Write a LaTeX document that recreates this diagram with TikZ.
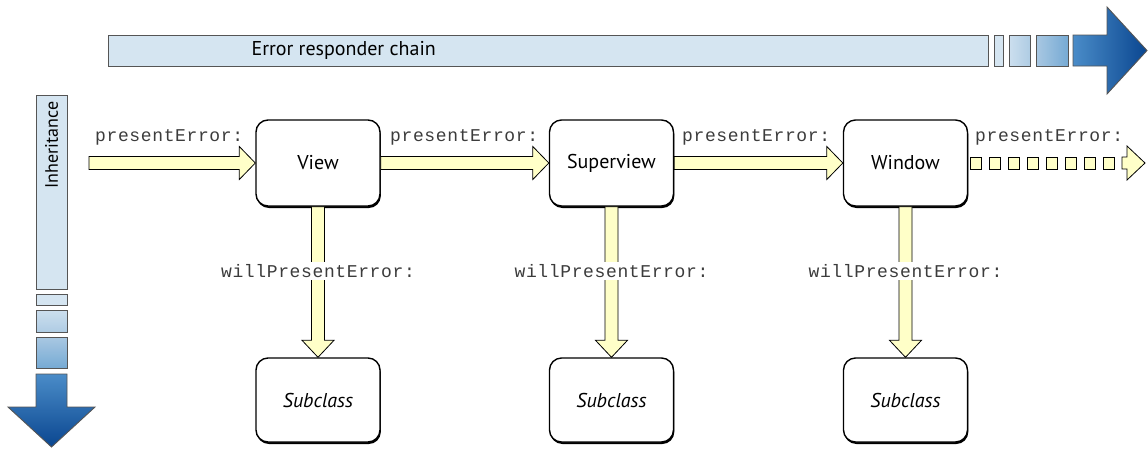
\documentclass[tikz,border=0pt]{standalone}
\usepackage{fontspec}
\setmainfont{PT Sans}
\newfontfamily\codefont[LetterSpace=3.5]{Liberation Mono}
\usetikzlibrary{calc,shadows}

\definecolor{barfill}{HTML}{D5E5F1}
\definecolor{barline}{HTML}{555555}
\definecolor{blueA}{HTML}{CCDFEE}
\definecolor{blueB}{HTML}{AFCCE4}
\definecolor{blueC}{HTML}{A9C8E2}
\definecolor{blueD}{HTML}{76AAD4}
\definecolor{blueE}{HTML}{4A8CC8}
\definecolor{blueF}{HTML}{0A4690}
\definecolor{yfill}{HTML}{FFFFC8}
\definecolor{codegray}{HTML}{3C3C3C}

% block arrows between two points at the same height / same x
\newcommand{\harrow}[2]{%
	\draw[yarrow] ($(#1)+(0,-6.5)$) -- ($(#2)+(-16,-6.5)$) -- ($(#2)+(-16,-16.5)$) -- (#2)
		-- ($(#2)+(-16,16.5)$) -- ($(#2)+(-16,6.5)$) -- ($(#1)+(0,6.5)$) -- cycle;}
\newcommand{\varrow}[2]{%
	\draw[yarrow] ($(#1)+(-6.5,0)$) -- ($(#2)+(-6.5,-17)$) -- ($(#2)+(-16,-17)$) -- (#2)
		-- ($(#2)+(16,-17)$) -- ($(#2)+(6.5,-17)$) -- ($(#1)+(6.5,0)$) -- cycle;}

\begin{document}
\begin{tikzpicture}[x=1pt,y=-1pt,
		box/.style={draw,line width=1.4pt,rounded corners=12pt,fill=white,
			minimum width=124pt,minimum height=86pt,font=\fontsize{20}{22}\selectfont,
			drop shadow={shadow xshift=0.8pt,shadow yshift=-2pt,opacity=1,fill=black}},
		subbox/.style={box,minimum height=84pt,font=\fontsize{20}{22}\selectfont\itshape},
		bar/.style={draw=barline,line width=0.9pt,fill=barfill},
		yarrow/.style={draw,line width=0.8pt,fill=yfill},
		code/.style={text=codegray,font=\codefont\fontsize{18}{20}\selectfont,inner sep=2pt}]
		\useasboundingbox (0,0) rectangle (1148,448);
		
		% responder chain bar
		\draw[bar] (108,35) rectangle (988,66);
		\node[anchor=west,font=\fontsize{20}{22}\selectfont] (chain) at (248,50.5) {Error responder chain};
		\draw[bar] (994,35) rectangle (1003,66);
		\shade[left color=blueA,right color=blueB,draw=barline,line width=0.9pt] (1009,35) rectangle (1030,66);
		\shade[left color=blueC,right color=blueD,draw=barline,line width=0.9pt] (1036,35) rectangle (1068,66);
		\shade[left color=blueE,right color=blueF,draw=barline,line width=0.9pt]
			(1073,35) -- (1107,35) -- (1107,7) -- (1147,50.5) -- (1107,94) -- (1107,66) -- (1073,66) -- cycle;
		
		% inheritance bar
		\draw[bar] (36,95) rectangle (67,289);
		\node[rotate=90,font=\fontsize{18}{20}\selectfont] (inh) at (51.5,145) {Inheritance};
		\draw[bar] (36,294) rectangle (67,305);
		\shade[top color=blueA,bottom color=blueB,draw=barline,line width=0.9pt] (36,310) rectangle (67,332);
		\shade[top color=blueC,bottom color=blueD,draw=barline,line width=0.9pt] (36,337) rectangle (67,368);
		\shade[top color=blueE,bottom color=blueF,draw=barline,line width=0.9pt]
			(36,374) -- (36,407) -- (8,407) -- (51.5,447) -- (95,407) -- (67,407) -- (67,374) -- cycle;
		
		% objects
		\node[box] (view) at (318,163) {View};
		\node[box] (superview) at (611.5,163) {Superview};
		\node[box] (window) at (905.5,163) {Window};
		\node[subbox] (sub1) at (318,400) {Subclass};
		\node[subbox] (sub2) at (611.5,400) {Subclass};
		\node[subbox] (sub3) at (905.5,400) {Subclass};
		
		% presentError: along the chain
		\coordinate (start) at (89,163);
		\harrow{start}{view.west}
		\harrow{view.east}{superview.west}
		\harrow{superview.east}{window.west}
		\node[code,anchor=west] (pe1) at (93,137) {presentError:};
		\node[code,anchor=west] (pe2) at (388,137) {presentError:};
		\node[code,anchor=west] (pe3) at (680,137) {presentError:};
		\node[code,anchor=west] (pe4) at (973,137) {presentError:};
		
		% the chain goes on
		\draw[yarrow] (970,157) rectangle (981.5,169);
		\draw[yarrow] (989,157) rectangle (1000.5,169);
		\draw[yarrow] (1008,157) rectangle (1019.5,169);
		\draw[yarrow] (1027,157) rectangle (1038.5,169);
		\draw[yarrow] (1046,157) rectangle (1057.5,169);
		\draw[yarrow] (1065,157) rectangle (1076.5,169);
		\draw[yarrow] (1084,157) rectangle (1095.5,169);
		\draw[yarrow] (1103,157) rectangle (1114.5,169);
		\coordinate (more) at (1145,163);
		\draw[yarrow] ($(more)+(-23,-6)$) -- ($(more)+(-18,-6)$) -- ($(more)+(-18,-17)$) -- (more)
			-- ($(more)+(-18,17)$) -- ($(more)+(-18,6)$) -- ($(more)+(-23,6)$) -- cycle;
		
		% willPresentError: down to the subclasses
		\varrow{view.south}{sub1.north}
		\varrow{superview.south}{sub2.north}
		\varrow{window.south}{sub3.north}
		\node[code,fill=white] (wpe1) at (318,271) {willPresentError:};
		\node[code,fill=white] (wpe2) at (611.5,271) {willPresentError:};
		\node[code,fill=white] (wpe3) at (905.5,271) {willPresentError:};
\end{tikzpicture}
\end{document}
